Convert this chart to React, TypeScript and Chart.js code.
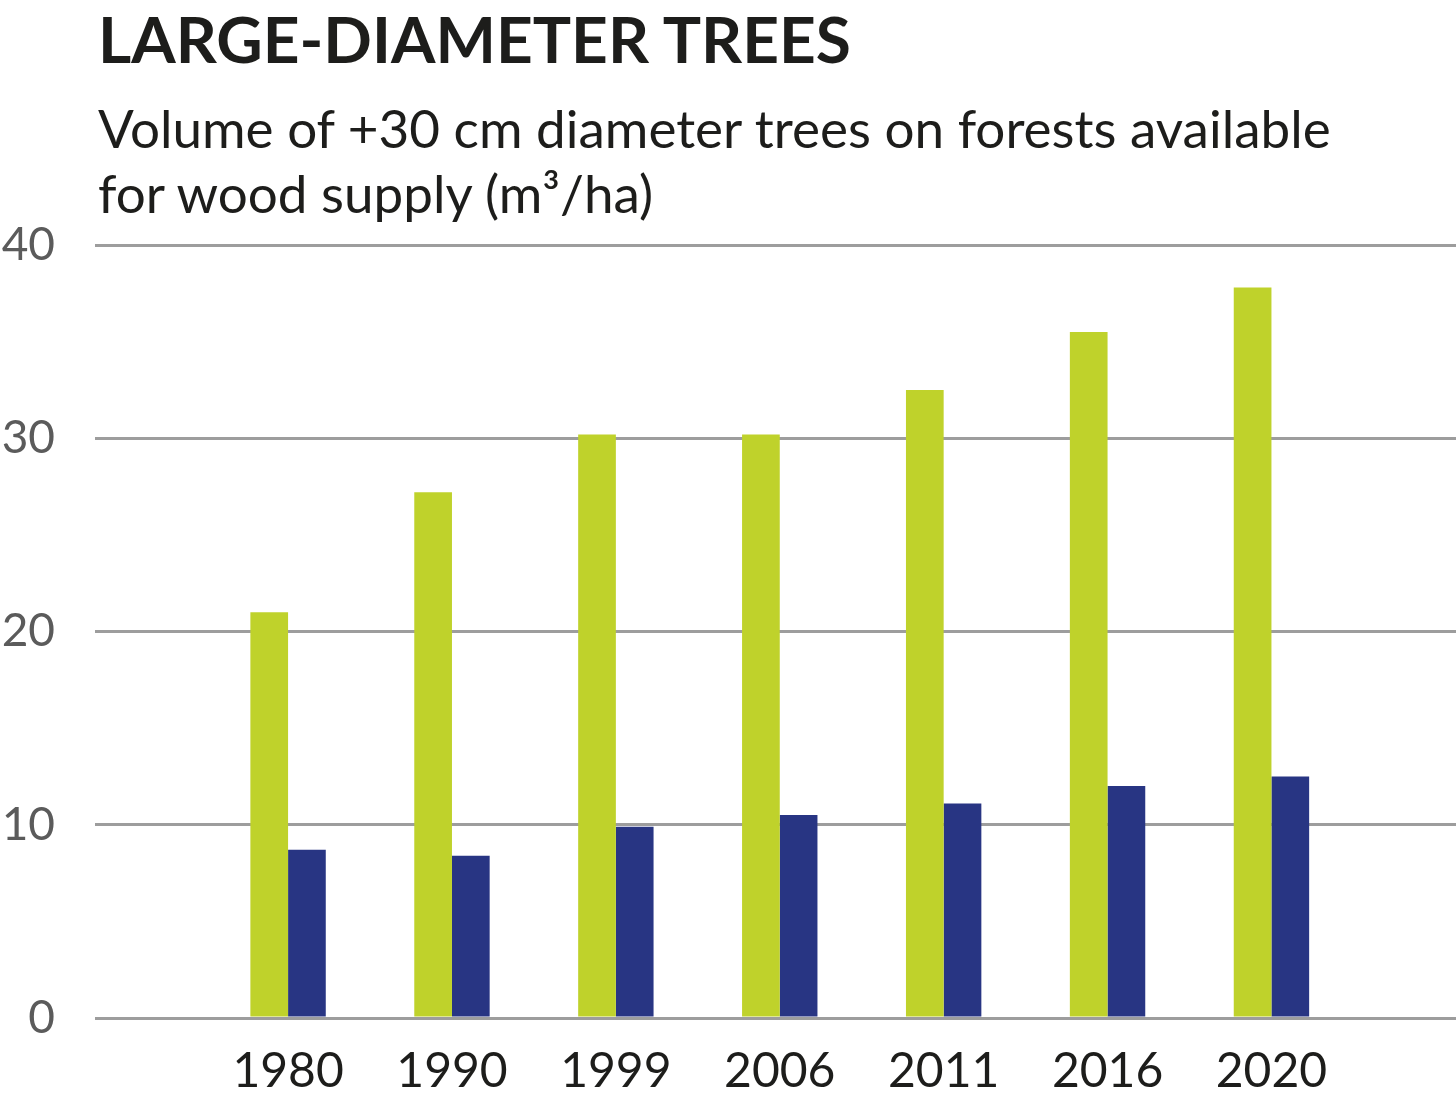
import React, { useEffect, useRef } from "react";
import { Chart, registerables } from "chart.js";

Chart.register(...registerables);

const years = ["1980", "1990", "1999", "2006", "2011", "2016", "2020"];
const greenValues = [21.0, 27.2, 30.2, 30.2, 32.5, 35.5, 37.8];
const blueValues = [8.7, 8.4, 9.9, 10.5, 11.1, 12.0, 12.5];
const yTicks = [0, 10, 20, 30, 40];

const FONT = "Lato, 'Noto Sans', sans-serif";

export default function App() {
  const canvasRef = useRef<HTMLCanvasElement | null>(null);

  useEffect(() => {
    if (!canvasRef.current) return;
    const chart = new Chart(canvasRef.current, {
      type: "bar",
      data: {
        datasets: [
          {
            label: "green",
            data: greenValues.map((v, i) => ({ x: i, y: v })),
            backgroundColor: "#bfd22b",
            borderWidth: 0,
          },
          {
            label: "blue",
            data: blueValues.map((v, i) => ({ x: i, y: v })),
            backgroundColor: "#283583",
            borderWidth: 0,
          },
        ],
      },
      options: {
        animation: false,
        responsive: false,
        maintainAspectRatio: false,
        layout: { padding: { top: 245, left: 0, right: 0, bottom: 0 } },
        datasets: {
          bar: { categoryPercentage: 0.46, barPercentage: 1.0 },
        },
        plugins: {
          legend: { display: false },
          tooltip: { enabled: false },
          title: { display: false },
        },
        scales: {
          x: {
            type: "linear",
            offset: false,
            min: -1.178,
            max: 7.126,
            grid: { display: false, drawTicks: false, offset: false },
            border: { display: false },
            afterBuildTicks: (scale: any) => {
              scale.ticks = years.map((_, i) => ({ value: i }));
            },
            afterFit: (scale: any) => {
              scale.height = 93;
            },
            ticks: {
              autoSkip: false,
              maxRotation: 0,
              padding: 25,
              color: "#1d1d1b",
              font: { family: FONT, size: 48 },
              callback: (v: any) => years[Math.round(Number(v))] ?? "",
            },
          },
          y: {
            min: 0,
            max: 40,
            afterBuildTicks: (scale: any) => {
              scale.ticks = yTicks.map((v) => ({ value: v }));
            },
            afterFit: (scale: any) => {
              scale.width = 95;
            },
            grid: { color: "#9d9d9d", lineWidth: 3, drawTicks: false },
            border: { display: false },
            ticks: {
              padding: 40,
              color: "#5b5b5b",
              font: { family: FONT, size: 46 },
            },
          },
        },
      },
    });
    return () => chart.destroy();
  }, []);

  return (
    <div style={{ position: "absolute", left: 0, top: 0, width: 1456, height: 1111, background: "#fff" }}>
      <canvas ref={canvasRef} width={1456} height={1111} style={{ position: "absolute", left: 0, top: 0 }} />
      <div
        style={{
          position: "absolute",
          left: 98,
          top: 5,
          fontFamily: FONT,
          fontWeight: 700,
          fontSize: 64,
          lineHeight: "68px",
          color: "#1d1d1b",
          whiteSpace: "nowrap",
        }}
      >
        LARGE-DIAMETER TREES
      </div>
      <div
        style={{
          position: "absolute",
          left: 98,
          top: 95,
          fontFamily: FONT,
          fontSize: 53,
          lineHeight: "65px",
          color: "#1d1d1b",
          whiteSpace: "nowrap",
        }}
      >
        <div>Volume of +30 cm diameter trees on forests available</div>
        <div>for wood supply (m³/ha)</div>
      </div>
    </div>
  );
}
